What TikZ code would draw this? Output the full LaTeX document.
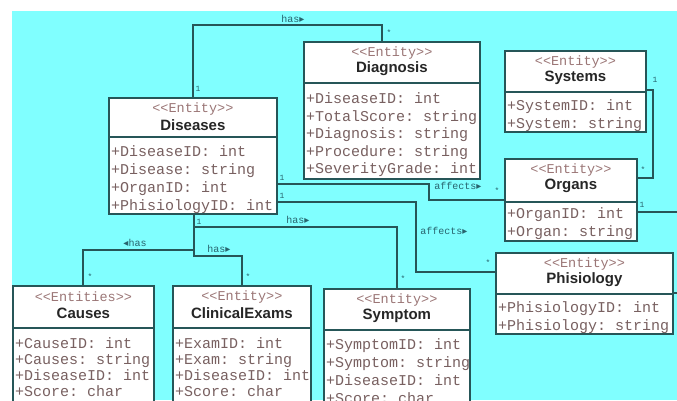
\documentclass[tikz,border=0pt]{standalone}
\usepackage{fontspec}
\setmainfont{Liberation Sans}
\setmonofont{Liberation Mono}
\newfontfamily\symfont{DejaVu Sans}
\usetikzlibrary{calc}
\definecolor{bgcyan}{RGB}{128,255,255}
\definecolor{edgecol}{RGB}{38,86,88}
\definecolor{attrcol}{RGB}{120,96,96}
\definecolor{stcol}{RGB}{155,118,118}
\definecolor{lblcol}{RGB}{40,100,110}
\newcommand\rtri{{\symfont\char"25B8}}
\newcommand\ltri{{\symfont\char"25C2}}
\tikzset{
  box/.style={draw=edgecol, line width=1.8pt, fill=white, inner sep=0pt},
  divline/.style={draw=edgecol, line width=1.5pt},
  stereo/.style={font=\fontsize{13.5}{14}\selectfont\ttfamily, text=stcol, inner sep=0pt},
  ctitle/.style={font=\fontsize{15}{16}\selectfont\bfseries, text=black!85, inner sep=0pt},
  attr/.style={anchor=west, font=\fontsize{15}{16}\selectfont\ttfamily, text=attrcol, inner sep=0pt, text height=10pt, text depth=3pt},
  conn/.style={draw=edgecol, line width=1.8pt},
  lbl/.style={font=\fontsize{10}{11}\selectfont\ttfamily, text=lblcol, inner sep=0pt},
  mult/.style={font=\fontsize{8}{9}\selectfont\ttfamily, text=lblcol, inner sep=0pt}
}
% name, x, y, w, h, divider offset, stereotype, title
\newcommand\umlclass[8]{%
  \node[box, minimum width=#4pt, minimum height=#5pt, anchor=north west] (#1) at (#2,#3) {};
  \draw[divline] ($(#1.north west)+(0,#6)$) -- ($(#1.north east)+(0,#6)$);
  \node[stereo] (#1-st) at ($(#1.north)+(0,12)$) {#7};
  \node[ctitle] (#1-ti) at ($(#1.north)+(0,28)$) {#8};
}
% name, first offset, spacing, list
\newcommand\umlattrs[4]{%
  \foreach \myattr [count=\myidx] in {#4} {
    \node[attr] (#1-a\myidx) at ($(#1.north west)+(3,{#2+#3*(\myidx-1)})$) {\myattr};
  }
}
\begin{document}
\begin{tikzpicture}[x=1pt,y=-1pt]
\useasboundingbox (0,0) rectangle (677,400);
\clip (0,0) rectangle (677,400);
\fill[white] (0,0) rectangle (677,400);
\fill[bgcyan] (12,11) rectangle (677,400);

% classes
\umlclass{dis}{108}{97}{168}{116}{40}{<{}<Entity>{}>}{Diseases}
\umlattrs{dis}{56}{18}{+DiseaseID: int,+Disease: string,+OrganID: int,+PhisiologyID: int}

\umlclass{dia}{303}{41}{176}{137}{42}{<{}<Entity>{}>}{Diagnosis}
\umlattrs{dia}{59}{17.5}{+DiseaseID: int,+TotalScore: string,+Diagnosis: string,+Procedure: string,+SeverityGrade: int}

\umlclass{sys}{504}{50}{141}{81}{42}{<{}<Entity>{}>}{Systems}
\umlattrs{sys}{57}{18}{+SystemID: int,+System: string}

\umlclass{org}{504}{158}{132}{82}{44}{<{}<Entity>{}>}{Organs}
\umlattrs{org}{57}{18}{+OrganID: int,+Organ: string}

\umlclass{phi}{495}{252}{177}{81}{42}{<{}<Entity>{}>}{Phisiology}
\umlattrs{phi}{57}{18}{+PhisiologyID: int,+Phisiology: string}

\umlclass{sym}{323}{288}{146}{140}{42}{<{}<Entity>{}>}{Symptom}
\umlattrs{sym}{58}{18}{+SymptomID: int,+Symptom: string,+DiseaseID: int,+Score: char}

\umlclass{cau}{12}{285}{141}{140}{43}{<{}<Entities>{}>}{Causes}
\umlattrs{cau}{60}{16}{+CauseID: int,+Causes: string,+DiseaseID: int,+Score: char}

\umlclass{ce}{172}{285}{138}{140}{43}{<{}<Entity>{}>}{ClinicalExams}
\umlattrs{ce}{60}{16}{+ExamID: int,+Exam: string,+DiseaseID: int,+Score: char}

% has: Diseases - Diagnosis
\draw[conn] ($(dis.north west)+(85,0)$) |- ($(dia.north west)+(79,-16)$) -- ($(dia.north west)+(79,0)$);
\node[lbl] (l-has1) at (293,19) {has\rtri};
\node[mult] (m-has1a) at (198,89) {1};
\node[mult] (m-has1b) at (389,33) {*};

% affects: Diseases - Organs
\draw[conn] ($(dis.north east)+(0,87)$) -- ++(151,0) |- (org.west);
\node[lbl] (l-aff1) at (458,186) {affects\rtri};
\node[mult] (m-aff1a) at (282,178) {1};
\node[mult] (m-aff1b) at (497,191) {*};

% affects: Diseases - Phisiology
\draw[conn] ($(dis.north east)+(0,105)$) -- ++(138,0) |- ($(phi.north west)+(0,20)$);
\node[lbl] (l-aff2) at (444,231) {affects\rtri};
\node[mult] (m-aff2a) at (282,196) {1};
\node[mult] (m-aff2b) at (488,263) {*};

% has: Diseases - Symptom
\draw[conn] ($(dis.south west)+(86,0)$) |- ($(sym.north west)+(74,-61)$) -- ($(sym.north west)+(74,0)$);
\node[lbl] (l-has2) at (298,220) {has\rtri};
\node[mult] (m-has2a) at (199,222) {1};
\node[mult] (m-has2b) at (403,279) {*};

% has: Diseases - Causes
\draw[conn] ($(dis.south west)+(86,0)$) |- ($(cau.north west)+(71,-35)$) -- ($(cau.north west)+(71,0)$);
\node[lbl] (l-has3) at (135,243) {\ltri has};
\node[mult] (m-has3b) at (90,277) {*};

% has: Diseases - ClinicalExams
\draw[conn] ($(dis.south west)+(86,0)$) |- ($(ce.north west)+(70,-29)$) -- ($(ce.north west)+(70,0)$);
\node[lbl] (l-has4) at (219,249) {has\rtri};
\node[mult] (m-has4b) at (248,277) {*};

% Systems - Organs
\draw[conn] ($(sys.north east)+(0,40)$) -- ++(6,0) |- ($(org.north east)+(0,20)$);
\node[mult] (m-so-a) at (655,80) {1};
\node[mult] (m-so-b) at (643,170) {*};

% exits to the right
\coordinate (exit1) at (677,212);
\coordinate (exit2) at (677,293);
\draw[conn] (org.east |- exit1) -- (exit1);
\draw[conn] (phi.east |- exit2) -- (exit2);
\node[mult] (m-ex1) at (642,205) {1};
\end{tikzpicture}
\end{document}
